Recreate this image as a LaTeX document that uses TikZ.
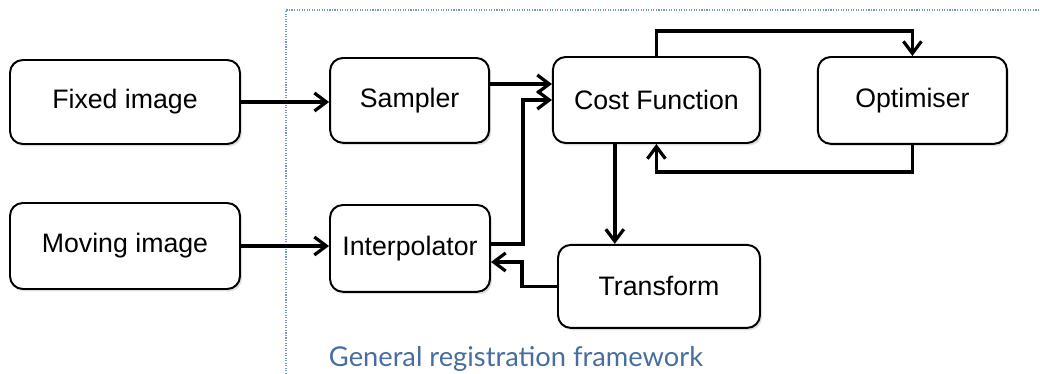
\documentclass[tikz,border=0pt]{standalone}
\usepackage{fontspec}
\setmainfont{Liberation Sans}
\newfontfamily\labelfont{Lato}
\usetikzlibrary{arrows.meta, calc, shadows}
\definecolor{frameblue}{RGB}{120,150,195}
\definecolor{textblue}{RGB}{70,110,160}

\begin{document}
\begin{tikzpicture}[block/.style={
	            draw,
	            line width=1.4pt,
	            rounded corners=0.32cm,
	            fill=white,
	            align = center,
	            inner sep=0pt,
	            font=\fontsize{19}{22}\selectfont,
	            drop shadow={shadow xshift=0.05cm, shadow yshift=-0.06cm, opacity=0.25},
	            },
	            >={Straight Barb[length=0.3cm, width=0.45cm, line width=2.3pt]},
	            conn/.style={
                    draw,
                    line width=2.5pt
                }]

	        \useasboundingbox (0,0) rectangle (26,-9.35);

	        % framework border
	        \draw[frameblue, densely dotted, line width=0.8pt] (7.15,-9.35) -- (7.15,-0.25) -- (26,-0.25);

	        \node[block, minimum width=5.75cm, minimum height=2.1cm] (fixed) at (3.125,-2.55) {Fixed image};
	        \node[block, minimum width=5.75cm, minimum height=2.15cm] (moving) at (3.125,-6.15) {Moving image};
	        \node[block, minimum width=3.975cm, minimum height=2.12cm] (sampler) at (10.24,-2.51) {Sampler};
	        \node[block, minimum width=4cm, minimum height=2.17cm] (interp) at (10.25,-6.21) {Interpolator};
	        \node[block, minimum width=5.175cm, minimum height=2.15cm] (cost) at (16.41,-2.5) {Cost Function};
	        \node[block, minimum width=4.725cm, minimum height=2.17cm] (opt) at (22.81,-2.51) {Optimiser};
	        \node[block, minimum width=5.05cm, minimum height=2.075cm] (trans) at (16.475,-7.16) {Transform};

	        \node[anchor=base west, text=textblue, font=\labelfont\fontsize{19.4}{22}\selectfont] (fw) at (8.1,-9.17) {General registration framework};

	        \draw[conn, ->] (fixed.east) -- (fixed.east -| sampler.west);
	        \draw[conn, ->] (moving.east) -- (moving.east -| interp.west);

	        \draw[conn, ->] ([yshift=0.41cm]sampler.east) -- ([yshift=0.41cm]sampler.east -| cost.west);
	        \draw[conn, ->] ([yshift=0.11cm]interp.east) -- ++(0.8,0) |- (cost.west);

	        \draw[conn, ->] (cost.north) -- ++(0,0.625) -| (opt.north);
	        \draw[conn, ->] (opt.south) -- ++(0,-0.675) -| (cost.south);

	        \draw[conn, ->] ([xshift=-1.04cm]cost.south) -- ([xshift=-1.04cm]cost.south |- trans.north);
	        \draw[conn, ->] (trans.west) -- ++(-0.87,0) |- ([yshift=-0.34cm]interp.east);

	    \end{tikzpicture}
\end{document}
